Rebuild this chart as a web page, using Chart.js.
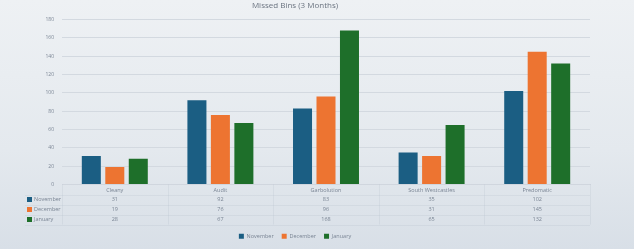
<!DOCTYPE html>
<html>
<head>
<meta charset="utf-8">
<script src="https://cdn.jsdelivr.net/npm/chart.js@4/dist/chart.umd.min.js"></script>
<style>
  html, body { margin: 0; padding: 0; }
  body {
    width: 634px; height: 249px; overflow: hidden;
    background: linear-gradient(180deg, #eef1f4 0%, #e4e9ee 60%, #d8dfe7 100%);
  }
  #wrap { position: relative; width: 634px; height: 249px; }
</style>
</head>
<body>
<div id="wrap"><canvas id="missed_bins"></canvas></div>
<script>
var categories = ['Cleany', 'Audit', 'Garbolution', 'South Westcastles', 'Predomatic'];
var november = [31, 92, 83, 35, 102];
var december = [19, 76, 96, 31, 145];
var january = [28, 67, 168, 65, 132];
var yTicks = [0, 20, 40, 60, 80, 100, 120, 140, 160, 180];

var seriesNames = ['November', 'December', 'January'];
var seriesColors = ['#1b5e83', '#ed7431', '#1e6f2a'];
var seriesData = [november, december, january];

var FONT = "'Open Sans', 'DejaVu Sans', sans-serif";

// draws the little data table under the x axis labels
var dataTable = {
    id: 'dataTable',
    afterDraw: function (chart) {
        var ctx = chart.ctx;
        var x = chart.scales.x;
        var area = chart.chartArea;
        var rowTop = area.bottom + 10;
        var rowH = 10;
        ctx.save();

        ctx.strokeStyle = 'rgba(150,160,175,0.13)';
        ctx.lineWidth = 1;
        var step = (x.right - x.left) / categories.length;
        for (var c = 0; c <= categories.length; c++) {
            var lx = Math.round(x.left + c * step) + 0.5;
            ctx.beginPath();
            ctx.moveTo(lx, area.bottom);
            ctx.lineTo(lx, rowTop + rowH * 3);
            ctx.stroke();
        }
        for (var r = 0; r <= 3; r++) {
            var ly = Math.round(rowTop + r * rowH) + 0.5;
            ctx.beginPath();
            ctx.moveTo(25, ly);
            ctx.lineTo(x.right, ly);
            ctx.stroke();
        }

        ctx.font = '5.5px ' + FONT;
        ctx.textBaseline = 'middle';
        for (var s = 0; s < seriesNames.length; s++) {
            var cy = rowTop + rowH * s + rowH / 2;
            ctx.fillStyle = seriesColors[s];
            ctx.fillRect(27, cy - 2.5, 5, 5);
            ctx.fillStyle = '#7a8594';
            ctx.textAlign = 'left';
            ctx.fillText(seriesNames[s], 34, cy);
            ctx.textAlign = 'center';
            for (var i = 0; i < categories.length; i++) {
                ctx.fillText(String(seriesData[s][i]), x.getPixelForValue(i), cy);
            }
        }
        ctx.restore();
    }
};

var ctx = document.getElementById('missed_bins').getContext('2d');
new Chart(ctx, {
    type: 'bar',
    data: {
        labels: categories,
        datasets: seriesNames.map(function (name, i) {
            return {
                label: name,
                data: seriesData[i],
                backgroundColor: seriesColors[i],
                borderWidth: 0,
                categoryPercentage: 0.667,
                barPercentage: 0.81
            };
        })
    },
    options: {
        responsive: true,
        maintainAspectRatio: false,
        animation: false,
        layout: { padding: { left: 0, right: 44, top: 0, bottom: 0 } },
        plugins: {
            title: {
                display: true,
                text: 'Missed Bins (3 Months)',
                color: '#6b7480',
                font: { family: FONT, size: 8, weight: 'normal' },
                padding: { top: 1, bottom: 9 }
            },
            legend: {
                position: 'bottom',
                labels: {
                    boxWidth: 5, boxHeight: 5,
                    padding: 8,
                    color: '#7a8594',
                    font: { family: FONT, size: 5.5 }
                }
            },
            tooltip: { enabled: false }
        },
        scales: {
            x: {
                grid: { display: false, drawTicks: false },
                border: { display: true, color: '#d0d6de' },
                ticks: { color: '#7a8594', font: { family: FONT, size: 5.5 }, padding: 3 },
                afterFit: function (scale) { scale.height = 41; }
            },
            y: {
                min: 0, max: 180,
                afterBuildTicks: function (scale) {
                    scale.ticks = yTicks.map(function (v) { return { value: v }; });
                },
                grid: { color: '#d3d9e0', drawTicks: false },
                border: { display: false },
                ticks: { color: '#7a8594', font: { family: FONT, size: 5 }, padding: 8 },
                afterFit: function (scale) { scale.width = 62; }
            }
        }
    },
    plugins: [dataTable]
});
</script>
</body>
</html>
